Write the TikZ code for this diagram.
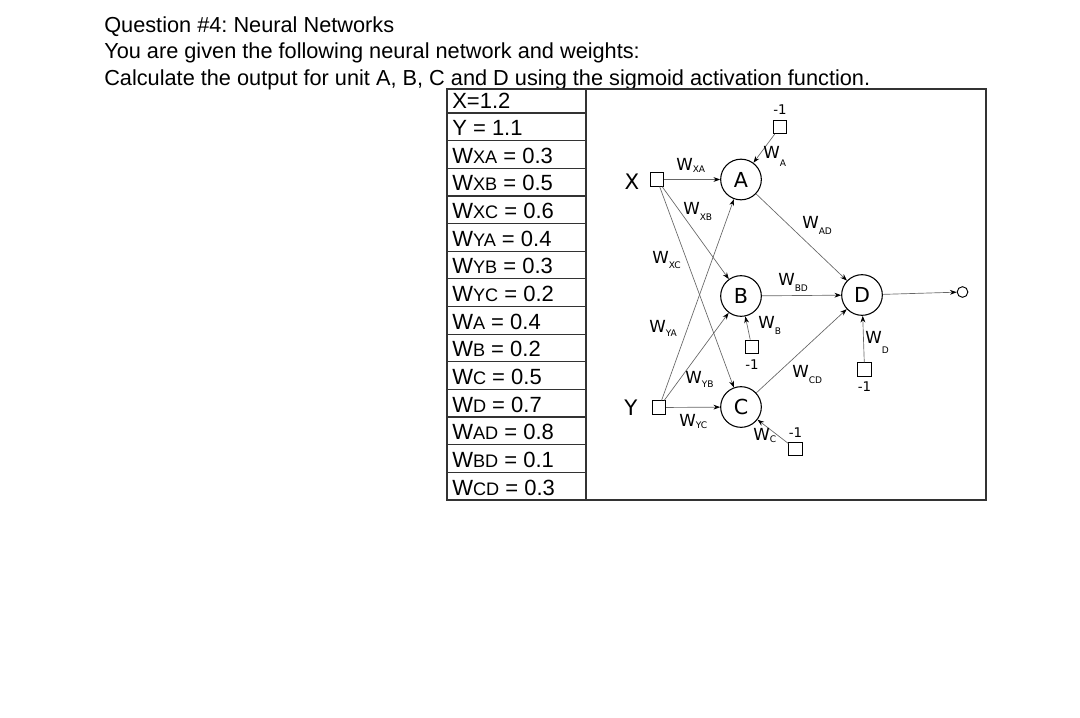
\documentclass[tikz,border=0pt]{standalone}
\usepackage{fontspec}
\setmainfont{Liberation Sans}
\newfontfamily\netfont{DejaVu Sans}
\usetikzlibrary{positioning,arrows.meta}
\frenchspacing

\newcommand{\tw}[1]{W{\fontsize{13.6}{14}\selectfont #1}}
\newcommand{\wlab}[2][2.6pt]{W\raisebox{-#1}{\fontsize{6.8}{7}\selectfont #2}}

\begin{document}
\begin{tikzpicture}[x=0.75pt, y=-0.75pt,
  syn/.style={-{Stealth[length=5pt, width=3.6pt, color=black]}, draw=black!60,
              line width=0.5pt},
  unit/.style={draw, circle, line width=0.8pt, minimum size=30.5pt, inner sep=0pt,
               font=\netfont\fontsize{15.5}{16}\selectfont},
  inp/.style={draw, line width=0.7pt, minimum size=10pt, inner sep=0pt},
  outp/.style={draw, circle, line width=0.7pt, minimum size=8pt, inner sep=0pt},
  io/.style={font=\netfont\fontsize{16}{17}\selectfont, inner sep=0pt},
  bl/.style={font=\netfont\fontsize{10}{11}\selectfont, inner sep=0pt},
  wl/.style={font=\netfont\fontsize{12.5}{13}\selectfont, inner sep=0pt,
             anchor=base west},
  ttl/.style={anchor=base west, inner sep=0pt, font=\fontsize{16.3}{18}\selectfont},
  row/.style={anchor=base west, inner sep=0pt, font=\fontsize{16.5}{17}\selectfont},
  grid/.style={draw=black!80, line width=0.9pt}]

  \useasboundingbox (0,0) rectangle (1080,717);

  % question text
  \node[ttl] (q1) at (104,33) {Question \#4: Neural Networks};
  \node[ttl] (q2) at (104,59) {You are given the following neural network and weights:};
  \node[ttl] (q3) at (104,85) {Calculate the output for unit A, B, C and D using the sigmoid activation function.};

  % table
  \draw[grid] (447,89) rectangle (986,500);
  \draw[grid] (586,89) -- (586,500);
  \draw[grid] (447,113) -- (586,113)   (447,140.6) -- (586,140.6)
              (447,168.3) -- (586,168.3) (447,195.9) -- (586,195.9)
              (447,223.6) -- (586,223.6) (447,251.2) -- (586,251.2)
              (447,278.8) -- (586,278.8) (447,306.5) -- (586,306.5)
              (447,334.1) -- (586,334.1) (447,361.8) -- (586,361.8)
              (447,389.4) -- (586,389.4) (447,417) -- (586,417)
              (447,444.7) -- (586,444.7) (447,472.3) -- (586,472.3);

  \node[row] (r1) at (452,108.5) {X=1.2};
  \node[row] (r2) at (452,135.6) {Y = 1.1};
  \node[row] (r3) at (452,163.3) {\tw{XA} = 0.3};
  \node[row] (r4) at (452,190.9) {\tw{XB} = 0.5};
  \node[row] (r5) at (452,218.6) {\tw{XC} = 0.6};
  \node[row] (r6) at (452,246.2) {\tw{YA} = 0.4};
  \node[row] (r7) at (452,273.8) {\tw{YB} = 0.3};
  \node[row] (r8) at (452,301.5) {\tw{YC} = 0.2};
  \node[row] (r9) at (452,329.1) {\tw{A} = 0.4};
  \node[row] (r10) at (452,356.8) {\tw{B} = 0.2};
  \node[row] (r11) at (452,384.4) {\tw{C} = 0.5};
  \node[row] (r12) at (452,412) {\tw{D} = 0.7};
  \node[row] (r13) at (452,439.7) {\tw{AD} = 0.8};
  \node[row] (r14) at (452,467.3) {\tw{BD} = 0.1};
  \node[row] (r15) at (452,495) {\tw{CD} = 0.3};

  % network
  \node[inp] (x) at (657,179.5) {};
  \node[inp] (y) at (659,407.5) {};
  \node[io] (xl) at (632,182) {X};
  \node[io] (yl) at (631,408) {Y};

  \node[unit] (A) at (741,179.5) {A};
  \node[unit] (B) at (741,296) {B};
  \node[unit] (C) at (741,407) {C};
  \node[unit] (D) at (862,295) {D};
  \node[outp] (o) at (962.5,292) {};

  \node[inp] (ba) at (780,127) {};
  \node[inp] (bb) at (751.7,346.7) {};
  \node[inp] (bc) at (795.5,449) {};
  \node[inp] (bd) at (864.5,369.5) {};
  \node[bl] (ma) at (780,110) {-1};
  \node[bl] (mb) at (752,365) {-1};
  \node[bl] (mc) at (795.5,433) {-1};
  \node[bl] (md) at (864.5,386.7) {-1};

  \draw[syn] (x) -- (A);
  \draw[syn] (x) -- (B);
  \draw[syn] (x) -- (C);
  \draw[syn] (y) -- (A);
  \draw[syn] (y) -- (B);
  \draw[syn] (y) -- (C);
  \draw[syn] (ba) -- (A);
  \draw[syn] (bb) -- (B);
  \draw[syn] (bc) -- (C);
  \draw[syn] (bd) -- (D);
  \draw[syn] (A) -- (D);
  \draw[syn] (B) -- (D);
  \draw[syn] (C) -- (D);
  \draw[syn] (D) -- (o);

  % weight labels
  \node[wl] (lxa) at (676,170) {\wlab[1.5pt]{XA}};
  \node[wl] (la) at (763,158) {\wlab[6.5pt]{A}};
  \node[wl] (lxb) at (683,214) {\wlab[4.5pt]{XB}};
  \node[wl] (lxc) at (652,263) {\wlab[4pt]{XC}};
  \node[wl] (lya) at (649,332) {\wlab[3pt]{YA}};
  \node[wl] (lyb) at (685,383) {\wlab[3pt]{YB}};
  \node[wl] (lyc) at (679,426) {\wlab[2pt]{YC}};
  \node[wl] (lb) at (758,328) {\wlab[5pt]{B}};
  \node[wl] (lc) at (753,440) {\wlab[1.5pt]{C}};
  \node[wl] (lad) at (802,228) {\wlab[5pt]{AD}};
  \node[wl] (lbd) at (778,285) {\wlab[4.5pt]{BD}};
  \node[wl] (lcd) at (792,377) {\wlab[4.5pt]{CD}};
  \node[wl] (ld) at (865,343) {\wlab[7.5pt]{D}};
\end{tikzpicture}
\end{document}
